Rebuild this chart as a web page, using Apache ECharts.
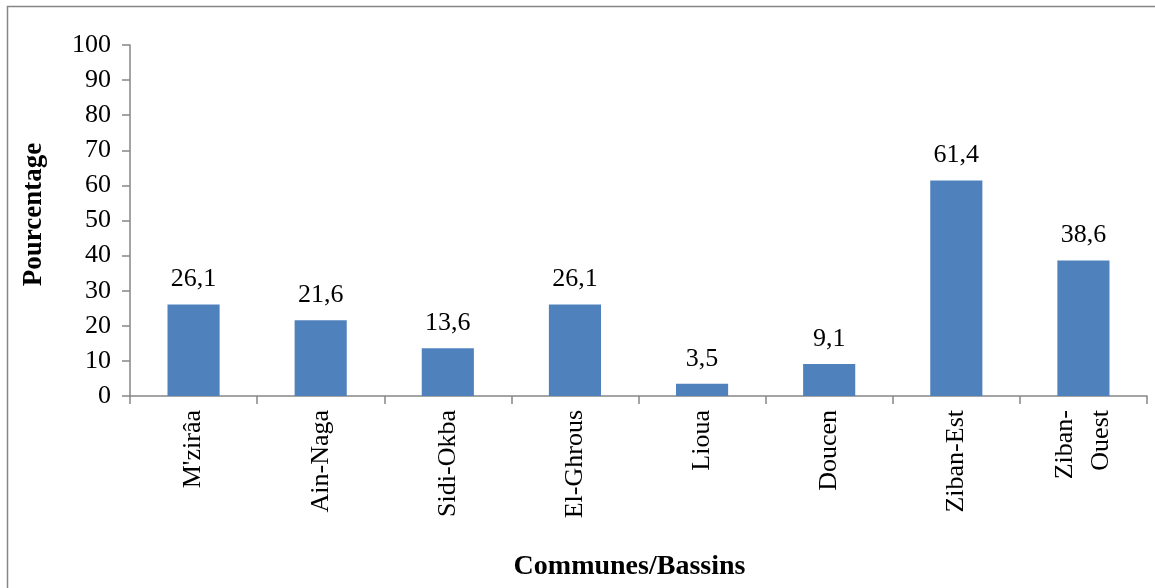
<!DOCTYPE html>
<html>
<head>
<meta charset="utf-8">
<script src="https://cdn.jsdelivr.net/npm/echarts@6/dist/echarts.min.js"></script>
<style>
  html, body { margin: 0; padding: 0; background: #fff; }
  #chart { width: 1155px; height: 588px; }
</style>
</head>
<body>
<div id="chart"></div>
<script>
// Share of each commune / basin, in percent
const communes = ["M'zirâa", "Ain-Naga", "Sidi-Okba", "El-Ghrous", "Lioua", "Doucen", "Ziban-Est", "Ziban-\nOuest"];
const pourcentages = [26.1, 21.6, 13.6, 26.1, 3.5, 9.1, 61.4, 38.6];
const yTicks = { min: 0, max: 100, step: 10 };

const FONT = '"Liberation Serif", "Times New Roman", serif';
const AXIS_GREY = '#868686';

const chart = echarts.init(document.getElementById('chart'), null, { renderer: 'canvas' });

chart.setOption({
  backgroundColor: '#ffffff',
  animation: false,
  textStyle: { fontFamily: FONT, color: '#000' },
  graphic: [{
    type: 'rect',
    shape: { x: 7.5, y: 6.5, width: 1160, height: 600 },
    style: { fill: 'none', stroke: AXIS_GREY, lineWidth: 1.5 },
    silent: true
  }],
  grid: { left: 130, right: 8, top: 45, bottom: 192, containLabel: false },
  xAxis: {
    type: 'category',
    data: communes,
    name: 'Communes/Bassins',
    nameLocation: 'middle',
    nameGap: 157,
    nameTextStyle: { fontFamily: FONT, fontWeight: 'bold', fontSize: 28, color: '#000', padding: [0, 18, 0, 0] },
    axisLine: { lineStyle: { color: AXIS_GREY, width: 1.5 } },
    axisTick: { show: true, alignWithLabel: false, length: 8, lineStyle: { color: AXIS_GREY, width: 1.5 } },
    axisLabel: {
      rotate: 90,
      margin: 14,
      interval: 0,
      fontFamily: FONT,
      fontSize: 26,
      lineHeight: 36,
      color: '#000'
    },
    splitLine: { show: false }
  },
  yAxis: {
    type: 'value',
    min: yTicks.min,
    max: yTicks.max,
    interval: yTicks.step,
    name: 'Pourcentage',
    nameLocation: 'middle',
    nameGap: 82,
    nameRotate: 90,
    nameTextStyle: { fontFamily: FONT, fontWeight: 'bold', fontSize: 27, color: '#000', padding: [0, 0, 0, 12] },
    axisLine: { show: true, lineStyle: { color: AXIS_GREY, width: 1.5 } },
    axisTick: { show: true, length: 8, lineStyle: { color: AXIS_GREY, width: 1.5 } },
    axisLabel: { margin: 19, fontFamily: FONT, fontSize: 26, color: '#000' },
    splitLine: { show: false }
  },
  series: [{
    type: 'bar',
    data: pourcentages,
    barWidth: '41%',
    itemStyle: { color: '#4F81BD' },
    label: {
      show: true,
      position: 'top',
      distance: 12,
      fontFamily: FONT,
      fontSize: 26,
      color: '#000',
      formatter: p => p.value.toFixed(1).replace('.', ',')
    }
  }]
});
</script>
</body>
</html>
